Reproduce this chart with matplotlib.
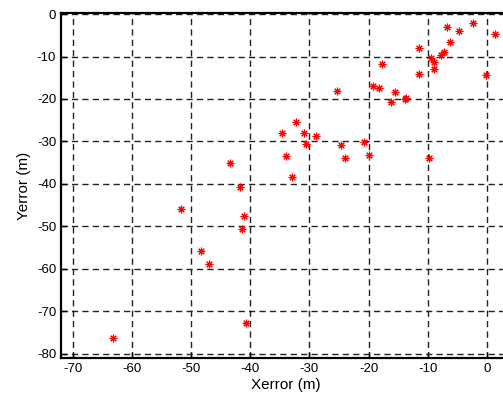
import matplotlib.pyplot as plt

x_err = [-6.8, -4.7, -2.4, 1.4, -6.3, -11.4, -7.2, -7.7, -9.5, -8.9, -9.0,
         -11.4, -0.2, -17.7, -19.2, -18.2, -15.5, -25.3, -16.2, -13.9, -13.6,
         -32.2, -34.7, -30.9, -28.9, -30.5, -24.6, -20.8, -33.9, -24.0, -19.9,
         -9.7, -32.9, -41.7, -43.5, -51.7, -41.0, -41.4, -48.3, -47.0, -40.7,
         -63.2]
y_err = [-3.0, -3.9, -2.0, -4.6, -6.6, -8.1, -8.9, -9.7, -10.4, -11.3, -13.0,
         -14.0, -14.4, -11.8, -16.9, -17.3, -18.4, -18.1, -20.8, -20.0, -19.7,
         -25.3, -28.0, -27.9, -28.6, -30.5, -30.8, -30.1, -33.5, -34.0, -33.1,
         -33.9, -38.4, -40.6, -35.1, -45.9, -47.5, -50.7, -55.7, -58.8, -72.6,
         -76.3]

x_ticks = [-70, -60, -50, -40, -30, -20, -10, 0]
y_ticks = [0, -10, -20, -30, -40, -50, -60, -70, -80]

plt.rcParams["font.family"] = ["Liberation Sans", "DejaVu Sans"]
plt.rcParams["axes.unicode_minus"] = False

fig = plt.figure(figsize=(5.03, 3.98), dpi=100)
ax = fig.add_axes([0.1213, 0.1, 0.8936, 0.868])

ax.plot(x_err, y_err, linestyle="none", marker=(8, 2, 0), color="red",
        markersize=5.5, markeredgewidth=0.8)

ax.set_xlim(-72, 4)
ax.set_ylim(-81, 0.3)
ax.set_xticks(x_ticks)
ax.set_yticks(y_ticks)

ax.grid(True, color="#222222", linestyle=(0, (4.5, 3)), linewidth=1.0)
ax.tick_params(direction="in", length=4, labelsize=9.5, width=1)

for s in ax.spines.values():
    s.set_linewidth(1.6)
ax.spines["right"].set_visible(False)

ax.set_xlabel("Xerror (m)", fontsize=11, labelpad=2)
ax.set_ylabel("Yerror (m)", fontsize=11, labelpad=4)

plt.savefig("out.png")
plt.close()
